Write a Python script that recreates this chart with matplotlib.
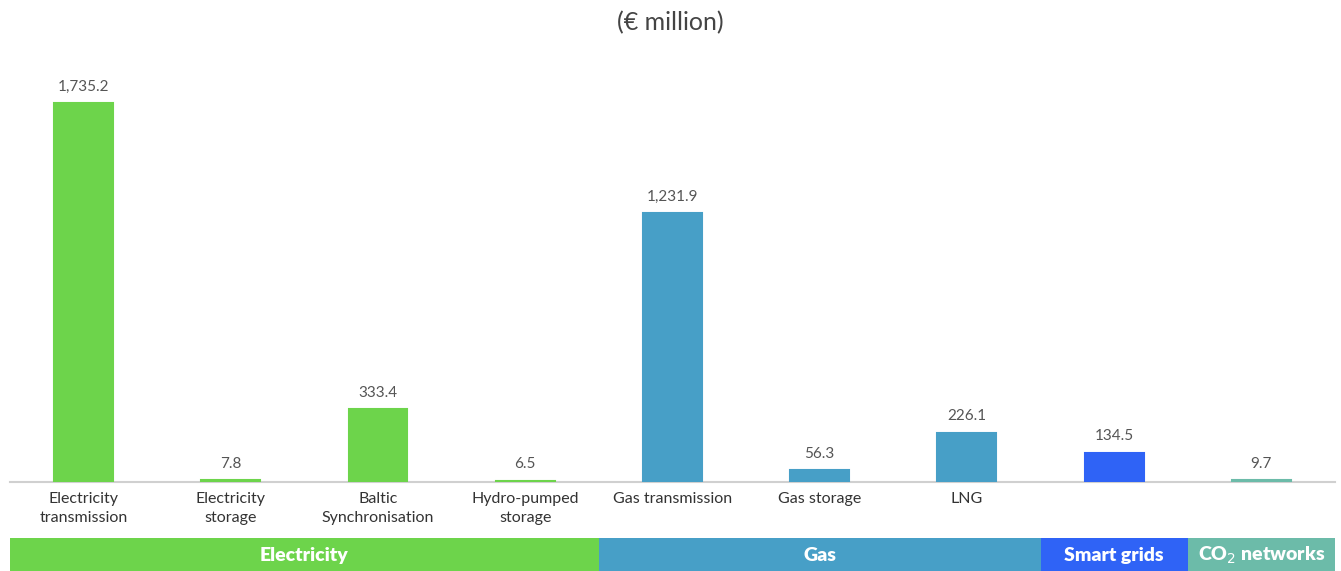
import matplotlib
matplotlib.use("Agg")
import matplotlib.pyplot as plt

plt.rcParams['font.family'] = ['Lato', 'DejaVu Sans']

categories = ["Electricity\ntransmission", "Electricity\nstorage", "Baltic\nSynchronisation",
              "Hydro-pumped\nstorage", "Gas transmission", "Gas storage", "LNG", "", ""]
values = [1735.2, 7.8, 333.4, 6.5, 1231.9, 56.3, 226.1, 134.5, 9.7]
groups = ["Electricity", "Electricity", "Electricity", "Electricity", "Gas", "Gas", "Gas",
          "Smart grids", "CO$_2$ networks"]

group_colors = {
    "Electricity": "#6dd44b",
    "Gas": "#479fc7",
    "Smart grids": "#2f63f6",
    "CO$_2$ networks": "#6cbba9",
}

W, H = 1341, 571
fig = plt.figure(figsize=(W / 100, H / 100), dpi=100)

# main bar axes
left, right = 10 / W, 1335 / W
ax = fig.add_axes([left, 89 / H, right - left, (482 - 67) / H])
x = list(range(len(values)))
colors = [group_colors[g] for g in groups]
# same-colour edge keeps the tiny bars visible, like the original
bars = ax.bar(x, values, width=0.40, color=colors, edgecolor=colors, linewidth=1.5, zorder=3)
ax.set_xlim(-0.5, len(values) - 0.5)
ax.set_ylim(0, 1900)

for bar, v in zip(bars, values):
    ax.text(bar.get_x() + bar.get_width() / 2, v + 42, f"{v:,.1f}",
            ha='center', va='bottom', fontsize=11, color='#555555')

ax.set_xticks(x)
ax.set_xticklabels(categories, fontsize=11.5, color='#333333', linespacing=1.45)
ax.tick_params(axis='x', length=0, pad=7)
ax.set_yticks([])
for s in ['top', 'right', 'left']:
    ax.spines[s].set_visible(False)
ax.spines['bottom'].set_color('#d0d0d0')
ax.spines['bottom'].set_linewidth(1.5)
ax.spines['bottom'].set_zorder(1)

fig.text(0.5, 1 - 23 / H, "(€ million)", ha='center', va='center', fontsize=18, color='#444444')

# group band below the chart
band = fig.add_axes([left, 0, right - left, 33 / H])
band.set_xlim(-0.5, len(values) - 0.5)
band.set_ylim(0, 1)
band.axis('off')
spans = []
for i, g in enumerate(groups):
    if spans and spans[-1][0] == g:
        spans[-1][2] = i
    else:
        spans.append([g, i, i])
for g, a, b in spans:
    band.axvspan(a - 0.5, b + 0.5, color=group_colors[g], lw=0)
    band.text((a + b) / 2, 0.48, g, ha='center', va='center', fontsize=14,
              fontweight='heavy', color='white')

fig.savefig("out.png", dpi=100)
